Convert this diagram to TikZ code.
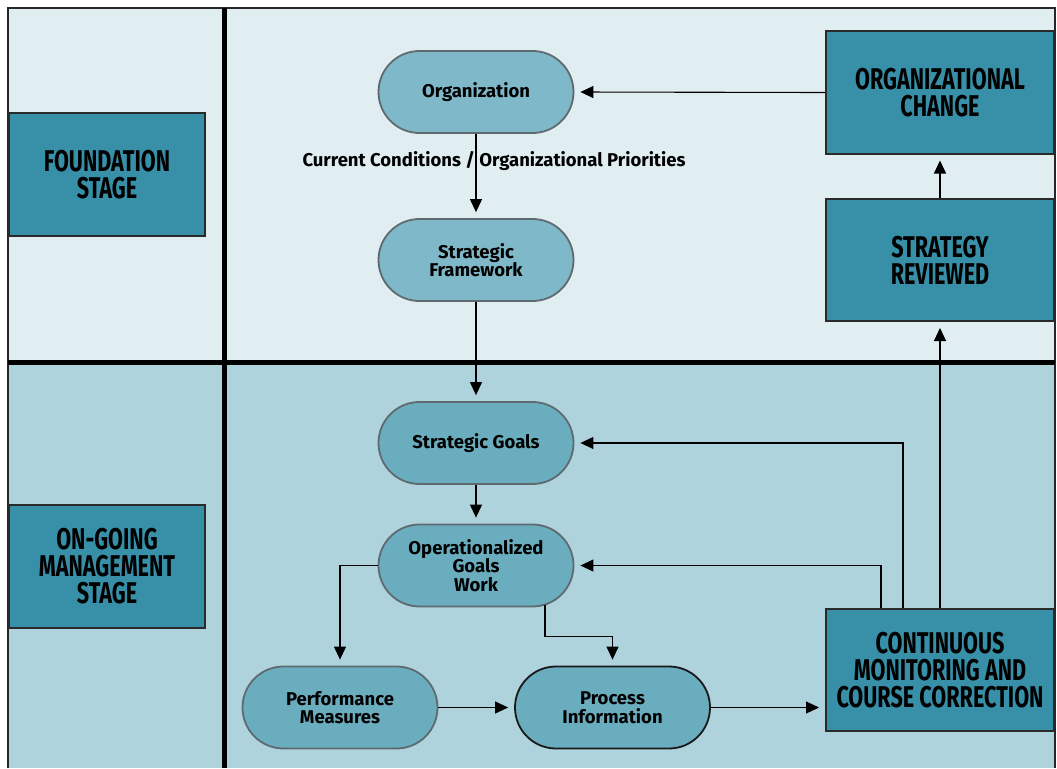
\documentclass[tikz,border=0pt]{standalone}
\usepackage{fontspec}
\setmainfont{Fira Sans}
\newfontfamily\condfont[FakeStretch=0.72]{Fira Sans}
\usetikzlibrary{shapes.misc,arrows.meta,calc}
\definecolor{topbg}{HTML}{E0EDF1}
\definecolor{botbg}{HTML}{AED3DC}
\definecolor{boxfill}{HTML}{3790A8}
\definecolor{capA}{HTML}{7FB8C8}
\definecolor{capB}{HTML}{6AADBE}
\definecolor{capline}{HTML}{5E6A70}
\definecolor{boxline}{HTML}{2A2A2A}
\tikzset{
  capsule/.style={rounded rectangle, draw=capline, line width=1.8pt, minimum width=195pt, minimum height=82pt, inner sep=0pt, align=center, font=\fontsize{18.5}{18.5}\selectfont\bfseries},
  topcap/.style={capsule, fill=capA},
  botcap/.style={capsule, fill=capB},
  bigbox/.style={rectangle, draw=boxline, line width=2pt, fill=boxfill, minimum width=228pt, minimum height=122pt, inner sep=0pt, align=center, font=\condfont\fontsize{30}{27}\selectfont\bfseries},
  stagebox/.style={bigbox, minimum width=196pt, minimum height=123pt},
  arr/.style={line width=1.1pt, -{Triangle[length=13pt,width=12pt]}, shorten >=6pt},
  conn/.style={line width=1.1pt}
}
\begin{document}
\begin{tikzpicture}[x=1pt,y=-1pt]
\useasboundingbox (0,0) rectangle (1057,768);
\fill[topbg] (8,8) rectangle (1055,362);
\fill[botbg] (8,362) rectangle (1055,768);
\draw[line width=2pt, draw=black!85] (8,768) -- (8,8) -- (1055,8) -- (1055,768);
\draw[line width=5pt] (224,8) -- (224,768);
\draw[line width=5pt] (8,362) -- (1055,362);

% stage boxes
\node[stagebox, anchor=north west] (found) at (8,112) {FOUNDATION\\STAGE};
\node[stagebox, anchor=north west] (ongo) at (8,504) {ON-GOING\\MANAGEMENT\\STAGE};

% top capsules
\node[topcap] (org) at (476,92) {Organization};
\node[topcap] (sf) at (476,260) {Strategic\\Framework};
\node[bigbox] (oc) at (940,92.5) {ORGANIZATIONAL\\CHANGE};
\node[bigbox] (sr) at (940,260) {STRATEGY\\REVIEWED};

% bottom capsules
\node[botcap] (sg) at (476,443) {Strategic Goals};
\node[botcap] (og) at (476,565.5) {Operationalized\\Goals\\Work};
\node[botcap] (pm) at (340,707.5) {Performance\\Measures};
\node[botcap, draw=black!90] (pi) at (612.5,707.5) {Process\\Information};
\node[bigbox] (cm) at (940,670) {CONTINUOUS\\MONITORING AND\\COURSE CORRECTION};

% label
\node[font=\fontsize{18.5}{18.5}\selectfont\bfseries] (lbl) at (494,161.5) {Current Conditions / Organizational Priorities};

% connectors
\draw[arr] (oc.west) -- (org.east);
\draw[arr] (sr.north) -- (oc.south);
\draw[arr] (org.south) -- (sf.north);
\draw[arr] (sf.south) -- (sg.north);
\draw[arr] (sg.south) -- (og.north);
\draw[arr] (og.west) -| (pm.north);
\coordinate (ogb) at ($(og.center)+(69,39)$);
\draw[arr] (ogb) -- ++(0,32) -| (pi.north);
\draw[arr] (pm.east) -- (pi.west);
\draw[arr] (pi.east) -- (pi.east -| cm.west);
\draw[arr] ($(cm.north)+(-59,0)$) |- (og.east);
\draw[arr] ($(cm.north)+(-37,0)$) |- (sg.east);
\draw[arr] (cm.north) -- (sr.south);
\end{tikzpicture}
\end{document}
